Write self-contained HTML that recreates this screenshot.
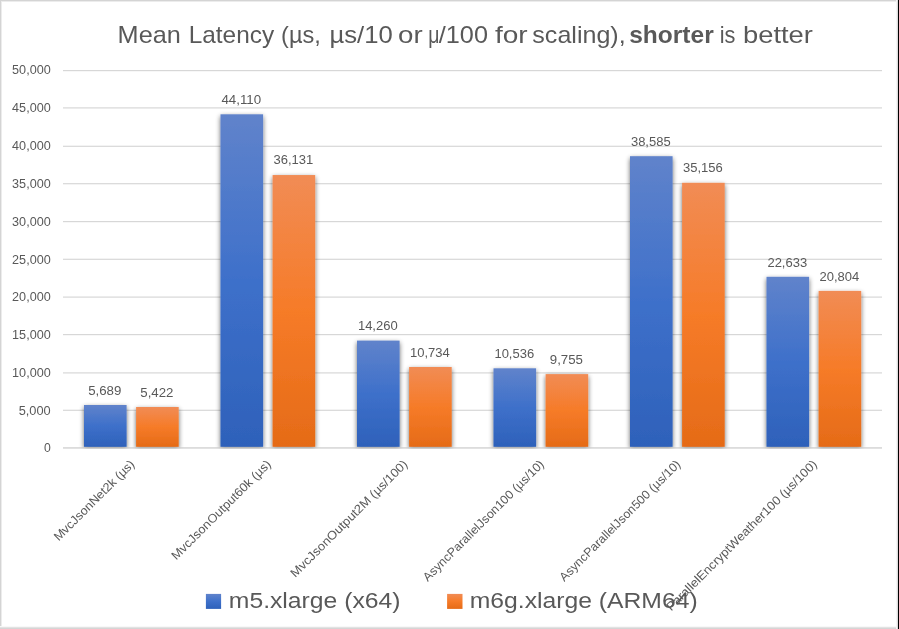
<!DOCTYPE html>
<html><head><meta charset="utf-8"><title>Mean Latency</title>
<style>
html,body{margin:0;padding:0;background:#fff;}
body{width:899px;height:629px;overflow:hidden;font-family:"Liberation Sans",sans-serif;}
svg{display:block;}
text{font-family:"Liberation Sans",sans-serif;fill:#595959;}
svg{opacity:0.999;}
</style></head><body>
<svg width="899" height="629" viewBox="0 0 899 629">
<defs>
<linearGradient id="gb" x1="0" y1="0" x2="0" y2="1">
<stop offset="0" stop-color="#6083cb"/><stop offset="0.5" stop-color="#3e70ca"/><stop offset="1" stop-color="#2e61ba"/>
</linearGradient>
<linearGradient id="go" x1="0" y1="0" x2="0" y2="1">
<stop offset="0" stop-color="#f18c55"/><stop offset="0.5" stop-color="#f67b28"/><stop offset="1" stop-color="#e56b17"/>
</linearGradient>
<filter id="sh" filterUnits="userSpaceOnUse" x="0" y="0" width="899" height="629">
<feGaussianBlur in="SourceAlpha" stdDeviation="2.8"/>
<feOffset dx="0" dy="2" result="b"/>
<feComponentTransfer><feFuncA type="linear" slope="0.6"/></feComponentTransfer>
<feMerge><feMergeNode/><feMergeNode in="SourceGraphic"/></feMerge>
</filter>
</defs>
<rect x="0" y="0" width="899" height="629" fill="#ffffff"/>

<rect x="63.0" y="447.30" width="819.0" height="1.2" fill="#d7d7d7"/>
<rect x="63.0" y="409.70" width="819.0" height="1.2" fill="#d7d7d7"/>
<rect x="63.0" y="372.30" width="819.0" height="1.2" fill="#d7d7d7"/>
<rect x="63.0" y="334.00" width="819.0" height="1.2" fill="#d7d7d7"/>
<rect x="63.0" y="296.50" width="819.0" height="1.2" fill="#d7d7d7"/>
<rect x="63.0" y="258.70" width="819.0" height="1.2" fill="#d7d7d7"/>
<rect x="63.0" y="221.00" width="819.0" height="1.2" fill="#d7d7d7"/>
<rect x="63.0" y="183.10" width="819.0" height="1.2" fill="#d7d7d7"/>
<rect x="63.0" y="145.70" width="819.0" height="1.2" fill="#d7d7d7"/>
<rect x="63.0" y="107.30" width="819.0" height="1.2" fill="#d7d7d7"/>
<rect x="63.0" y="70.00" width="819.0" height="1.2" fill="#d7d7d7"/>
<text x="43.9" y="452" font-size="11.9" textLength="6.8" lengthAdjust="spacingAndGlyphs">0</text>
<text x="18.7" y="415" font-size="11.9" textLength="32.0" lengthAdjust="spacingAndGlyphs">5,000</text>
<text x="12.1" y="377" font-size="11.9" textLength="38.6" lengthAdjust="spacingAndGlyphs">10,000</text>
<text x="12.1" y="339" font-size="11.9" textLength="38.6" lengthAdjust="spacingAndGlyphs">15,000</text>
<text x="12.1" y="301" font-size="11.9" textLength="38.6" lengthAdjust="spacingAndGlyphs">20,000</text>
<text x="12.1" y="264" font-size="11.9" textLength="38.6" lengthAdjust="spacingAndGlyphs">25,000</text>
<text x="12.1" y="225.5" font-size="11.9" textLength="38.6" lengthAdjust="spacingAndGlyphs">30,000</text>
<text x="12.1" y="188" font-size="11.9" textLength="38.6" lengthAdjust="spacingAndGlyphs">35,000</text>
<text x="12.1" y="150" font-size="11.9" textLength="38.6" lengthAdjust="spacingAndGlyphs">40,000</text>
<text x="12.1" y="112" font-size="11.9" textLength="38.6" lengthAdjust="spacingAndGlyphs">45,000</text>
<text x="12.1" y="74" font-size="11.9" textLength="38.6" lengthAdjust="spacingAndGlyphs">50,000</text>
<clipPath id="cp"><rect x="0" y="0" width="899" height="448.4"/></clipPath><g clip-path="url(#cp)">
<rect x="84.00" y="405.00" width="42.6" height="41.80" fill="url(#gb)" filter="url(#sh)"/>
<text x="88.20" y="395" font-size="11.9" textLength="33.2" lengthAdjust="spacingAndGlyphs">5,689</text>
<rect x="136.10" y="407.00" width="42.6" height="39.80" fill="url(#go)" filter="url(#sh)"/>
<text x="140.30" y="397" font-size="11.9" textLength="33.2" lengthAdjust="spacingAndGlyphs">5,422</text>
<rect x="220.50" y="114.30" width="42.6" height="332.50" fill="url(#gb)" filter="url(#sh)"/>
<text x="221.40" y="104" font-size="11.9" textLength="39.8" lengthAdjust="spacingAndGlyphs">44,110</text>
<rect x="272.60" y="175.05" width="42.6" height="271.75" fill="url(#go)" filter="url(#sh)"/>
<text x="273.50" y="164" font-size="11.9" textLength="39.8" lengthAdjust="spacingAndGlyphs">36,131</text>
<rect x="357.00" y="340.60" width="42.6" height="106.20" fill="url(#gb)" filter="url(#sh)"/>
<text x="357.90" y="330" font-size="11.9" textLength="39.8" lengthAdjust="spacingAndGlyphs">14,260</text>
<rect x="409.10" y="367.00" width="42.6" height="79.80" fill="url(#go)" filter="url(#sh)"/>
<text x="410.00" y="357" font-size="11.9" textLength="39.8" lengthAdjust="spacingAndGlyphs">10,734</text>
<rect x="493.50" y="368.30" width="42.6" height="78.50" fill="url(#gb)" filter="url(#sh)"/>
<text x="494.40" y="358" font-size="11.9" textLength="39.8" lengthAdjust="spacingAndGlyphs">10,536</text>
<rect x="545.60" y="374.10" width="42.6" height="72.70" fill="url(#go)" filter="url(#sh)"/>
<text x="549.80" y="364" font-size="11.9" textLength="33.2" lengthAdjust="spacingAndGlyphs">9,755</text>
<rect x="630.00" y="156.20" width="42.6" height="290.60" fill="url(#gb)" filter="url(#sh)"/>
<text x="630.90" y="146" font-size="11.9" textLength="39.8" lengthAdjust="spacingAndGlyphs">38,585</text>
<rect x="682.10" y="182.80" width="42.6" height="264.00" fill="url(#go)" filter="url(#sh)"/>
<text x="683.00" y="172" font-size="11.9" textLength="39.8" lengthAdjust="spacingAndGlyphs">35,156</text>
<rect x="766.50" y="276.80" width="42.6" height="170.00" fill="url(#gb)" filter="url(#sh)"/>
<text x="767.40" y="267" font-size="11.9" textLength="39.8" lengthAdjust="spacingAndGlyphs">22,633</text>
<rect x="818.60" y="290.90" width="42.6" height="155.90" fill="url(#go)" filter="url(#sh)"/>
<text x="819.50" y="281" font-size="11.9" textLength="39.8" lengthAdjust="spacingAndGlyphs">20,804</text>
</g>
<rect x="63.0" y="447.30" width="819.0" height="1.2" fill="#d7d7d7" opacity="0.85"/>
<text transform="translate(135.25,465.00) rotate(-45)" x="-108.3" y="0" font-size="12.2" textLength="108.3" lengthAdjust="spacingAndGlyphs">MvcJsonNet2k (µs)</text>
<text transform="translate(271.75,465.00) rotate(-45)" x="-135.0" y="0" font-size="12.2" textLength="135.0" lengthAdjust="spacingAndGlyphs">MvcJsonOutput60k (µs)</text>
<text transform="translate(408.25,465.00) rotate(-45)" x="-159.8" y="0" font-size="12.2" textLength="159.8" lengthAdjust="spacingAndGlyphs">MvcJsonOutput2M (µs/100)</text>
<text transform="translate(544.75,465.00) rotate(-45)" x="-165.3" y="0" font-size="12.2" textLength="165.3" lengthAdjust="spacingAndGlyphs">AsyncParallelJson100 (µs/10)</text>
<text transform="translate(681.25,465.00) rotate(-45)" x="-165.3" y="0" font-size="12.2" textLength="165.3" lengthAdjust="spacingAndGlyphs">AsyncParallelJson500 (µs/10)</text>
<text transform="translate(817.75,465.00) rotate(-45)" x="-207.3" y="0" font-size="12.2" textLength="207.3" lengthAdjust="spacingAndGlyphs">ParallelEncryptWeather100 (µs/100)</text>
<text x="117.6" y="43.4" font-size="23.8" textLength="63.2" lengthAdjust="spacingAndGlyphs">Mean</text>
<text x="188.7" y="43.4" font-size="23.8" textLength="85.5" lengthAdjust="spacingAndGlyphs">Latency</text>
<text x="281.1" y="43.4" font-size="23.8" textLength="39.8" lengthAdjust="spacingAndGlyphs">(µs,</text>
<text x="329.5" y="43.4" font-size="23.8" textLength="63.3" lengthAdjust="spacingAndGlyphs">µs/10</text>
<text x="398.0" y="43.4" font-size="23.8" textLength="24.6" lengthAdjust="spacingAndGlyphs">or</text>
<text x="428.3" y="43.4" font-size="23.8" textLength="11.2" lengthAdjust="spacingAndGlyphs">μ</text>
<text x="438.8" y="43.4" font-size="23.8" textLength="49.2" lengthAdjust="spacingAndGlyphs">/100</text>
<text x="495.0" y="43.4" font-size="23.8" textLength="32.7" lengthAdjust="spacingAndGlyphs">for</text>
<text x="532.3" y="43.4" font-size="23.8" textLength="93.4" lengthAdjust="spacingAndGlyphs">scaling),</text>
<text x="629.2" y="43.4" font-size="23.8" font-weight="bold" textLength="84.5" lengthAdjust="spacingAndGlyphs">shorter</text>
<text x="719.7" y="43.4" font-size="23.8" textLength="15.7" lengthAdjust="spacingAndGlyphs">is</text>
<text x="743.0" y="43.4" font-size="23.8" textLength="69.9" lengthAdjust="spacingAndGlyphs">better</text>
<rect x="205.9" y="593.9" width="15.2" height="15" fill="url(#gb)"/>
<text x="228.8" y="608" font-size="21.7" textLength="171.7" lengthAdjust="spacingAndGlyphs">m5.xlarge (x64)</text>
<rect x="447.1" y="593.9" width="15.4" height="15" fill="url(#go)"/>
<text x="469.7" y="608" font-size="21.7" textLength="228.0" lengthAdjust="spacingAndGlyphs">m6g.xlarge (ARM64)</text>
<rect x="0" y="0" width="899" height="1" fill="#d4d4d4"/><rect x="0" y="1" width="899" height="1" fill="#ececec"/>
<rect x="0" y="0" width="1" height="629" fill="#d4d4d4"/><rect x="1" y="1" width="1" height="629" fill="#ececec"/>
<rect x="0" y="628" width="899" height="1" fill="#d5d5d5"/><rect x="0" y="627" width="899" height="1" fill="#e2e2e2"/><rect x="0" y="626" width="899" height="1" fill="#f8f8f8"/>
<rect x="896" y="0" width="1" height="629" fill="#f4f4f4"/><rect x="897" y="0" width="1" height="629" fill="#dcdcdc"/><rect x="898" y="0" width="1" height="629" fill="#000000"/>
</svg></body></html>
